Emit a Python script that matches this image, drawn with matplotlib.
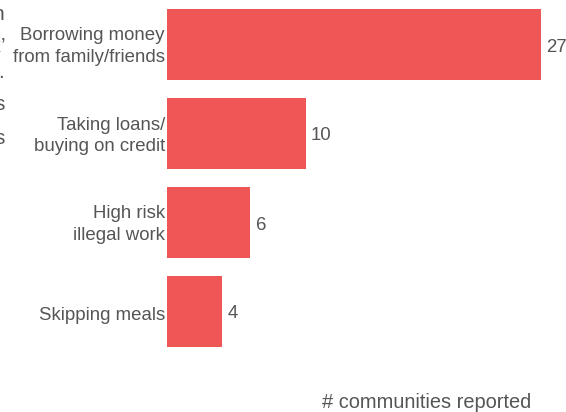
import matplotlib.pyplot as plt
from matplotlib.transforms import ScaledTranslation

# 应对策略及报告社区数
strategies = ['Borrowing money\nfrom family/friends', 'Taking loans/\nbuying on credit',
              'High risk\nillegal work', 'Skipping meals']
counts = [27, 10, 6, 4]

plt.rcParams['font.family'] = ['Liberation Sans', 'DejaVu Sans']

W, H = 566, 412
fig = plt.figure(figsize=(W / 100, H / 100), dpi=100)
ax = fig.add_axes([167 / W, 1 - 356 / H, 374 / W, 356 / H])


def px_shift(dy):
    # 以像素为单位的竖直偏移
    return ScaledTranslation(0, dy / 100, fig.dpi_scale_trans)


y = range(len(strategies))
bars = ax.barh(y, counts, height=0.8, color='#ef5656')
ax.set_xlim(0, 27)
ax.set_ylim(3.5, -0.5)
ax.set_yticks(list(y))
ax.set_yticklabels(strategies, fontsize=13.4, color='#555555', ha='right', linespacing=1.38)
ax.tick_params(axis='y', length=0, pad=1.5)
for lbl, name in zip(ax.get_yticklabels(), strategies):
    dy = 2.0 if '\n' in name else -2.5
    lbl.set_transform(lbl.get_transform() + px_shift(dy))
ax.set_xticks([])
for s in ax.spines.values():
    s.set_visible(False)

for b, v in zip(bars, counts):
    t = ax.text(b.get_width() + 0.4, b.get_y() + b.get_height() / 2, str(v),
                va='center', ha='left', fontsize=13.4, color='#555555')
    t.set_transform(t.get_transform() + px_shift(-2.5))

fig.text(427 / W, 1 - 403 / H, '# communities reported', ha='center', va='center',
         fontsize=14.4, color='#555555')

# 左侧被截断的文字
for ch, py in [('n', 14), ('’', 47), ('.', 72), ('s', 105), ('s', 138)]:
    fig.text(6 / W, 1 - py / H, 'xx' + ch, ha='right', va='center',
             fontsize=15, color='#555555')

fig.savefig('out.png', dpi=100)
